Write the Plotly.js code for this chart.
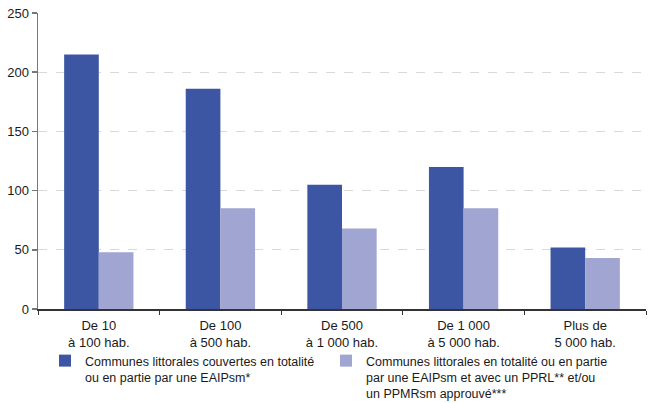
<!DOCTYPE html>
<html>
<head>
<meta charset="utf-8">
<script src="https://cdn.plot.ly/plotly-3.0.1.min.js"></script>
<style>
html,body{margin:0;padding:0;background:#fff;}
#chart{width:648px;height:403px;}
</style>
</head>
<body>
<div id="chart"></div>
<script>
const categories = ["De 10<br>à 100 hab.", "De 100<br>à 500 hab.", "De 500<br>à 1 000 hab.", "De 1 000<br>à 5 000 hab.", "Plus de<br>5 000 hab."];
const seriesEAIP = [215, 186, 105, 120, 52];
const seriesPPRL = [48, 85, 68, 85, 43];
const nameEAIP = "Communes littorales couvertes en totalité<br>ou en partie par une EAIPsm*";
const namePPRL = "Communes littorales en totalité ou en partie<br>par une EAIPsm et avec un PPRL** et/ou<br>un PPMRsm approuvé***";
const yTicks = [0, 50, 100, 150, 200, 250];

const font = "Liberation Sans, Arial, Helvetica, sans-serif";

const data = [
  {type: "bar", x: categories, y: seriesEAIP, name: nameEAIP, marker: {color: "#3c56a3"}, legend: "legend"},
  {type: "bar", x: categories, y: seriesPPRL, name: namePPRL, marker: {color: "#a1a5d2"}, legend: "legend2"}
];

const legendBase = {
  orientation: "v",
  xref: "container", yref: "container",
  xanchor: "left", yanchor: "top",
  valign: "top",
  bgcolor: "rgba(0,0,0,0)",
  font: {family: font, size: 12.5, color: "#1a1a1a"},
  itemclick: false
};

const layout = {
  width: 648, height: 403,
  margin: {l: 38, r: 2, t: 13, b: 94, autoexpand: false},
  paper_bgcolor: "#fff", plot_bgcolor: "#fff",
  font: {family: font, size: 13, color: "#1a1a1a"},
  barmode: "group",
  bargap: 0.43,
  bargroupgap: 0,
  showlegend: true,
  xaxis: {
    type: "category",
    tickson: "boundaries",
    ticks: "outside", ticklen: 4, tickcolor: "#333", tickwidth: 1,
    showline: true, linecolor: "#333", linewidth: 1.5,
    showgrid: false, zeroline: false,
    ticklabelstandoff: 4,
    tickfont: {family: font, size: 13, color: "#1a1a1a"}
  },
  yaxis: {
    range: [0, 250],
    tickvals: yTicks,
    ticks: "outside", ticklen: 5, tickcolor: "#777", tickwidth: 1.5,
    showline: true, linecolor: "#777", linewidth: 1.5,
    showgrid: true, gridcolor: "#d9d9d9", griddash: "dash", gridwidth: 1,
    zeroline: false,
    tickfont: {family: font, size: 13, color: "#1a1a1a"}
  },
  legend: Object.assign({}, legendBase, {x: 45/648, y: 1 - 346/403}),
  legend2: Object.assign({}, legendBase, {x: 326/648, y: 1 - 346/403})
};

Plotly.newPlot("chart", data, layout, {displayModeBar: false, staticPlot: true});
</script>
</body>
</html>
